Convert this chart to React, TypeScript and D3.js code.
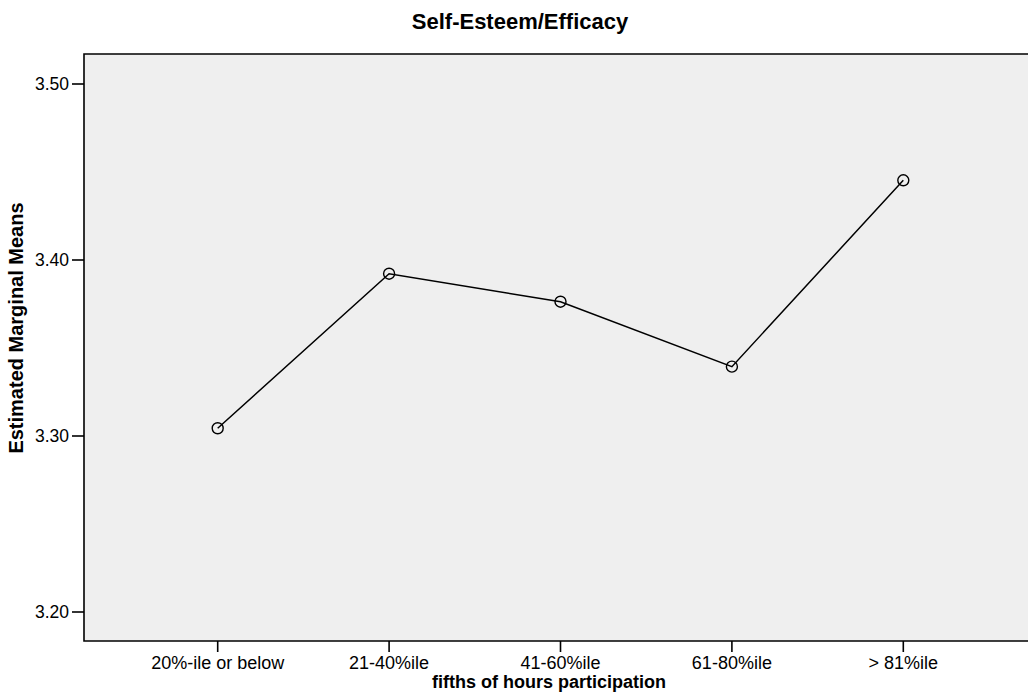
import React from "react";
import * as d3 from "d3";

const categories = ["20%-ile or below", "21-40%ile", "41-60%ile", "61-80%ile", "> 81%ile"];
const means = [3.3044, 3.3922, 3.3763, 3.3394, 3.4453];
const yTicks = [3.2, 3.3, 3.4, 3.5];

const W = 1028;
const H = 696;
const plotLeft = 84;
const plotTop = 54;
const plotBottom = 641;
const plotRight = 1037;
const FONT = "Arial, 'Liberation Sans', sans-serif";

export default function App() {
  const x = d3.scalePoint<string>().domain(categories).range([plotLeft, plotRight]).padding(0.78);
  const y = d3.scaleLinear().domain([3.2, 3.5]).range([612, 84]);
  const line = d3
    .line<number>()
    .x((_, i) => x(categories[i]) as number)
    .y((d) => y(d));

  return (
    <svg
      width={W}
      height={H}
      style={{ position: "absolute", left: 0, top: 0, background: "#fff" }}
      fontFamily={FONT}
    >
      <text x={520} y={29} textAnchor="middle" fontSize={22} fontWeight="bold" fill="#000">
        Self-Esteem/Efficacy
      </text>
      <rect x={plotLeft} y={plotTop} width={plotRight - plotLeft} height={plotBottom - plotTop} fill="#efefef" />
      <path
        d={`M${plotRight},${plotTop}H${plotLeft}V${plotBottom}H${plotRight}`}
        fill="none"
        stroke="#000"
        strokeWidth={1.6}
      />
      {yTicks.map((t) => (
        <g key={t}>
          <line x1={72} x2={plotLeft} y1={y(t)} y2={y(t)} stroke="#000" strokeWidth={1.6} />
          <text x={69} y={y(t)} dy="0.35em" textAnchor="end" fontSize={17.5} fill="#000">
            {t.toFixed(2)}
          </text>
        </g>
      ))}
      {categories.map((c) => (
        <g key={c}>
          <line x1={x(c)} x2={x(c)} y1={plotBottom} y2={652} stroke="#000" strokeWidth={1.6} />
          <text x={x(c)} y={669} textAnchor="middle" fontSize={18} fill="#000">
            {c}
          </text>
        </g>
      ))}
      <text x={549} y={688} textAnchor="middle" fontSize={18} fontWeight="bold" fill="#000">
        fifths of hours participation
      </text>
      <text
        transform={`translate(23,328) rotate(-90)`}
        textAnchor="middle"
        fontSize={20}
        fontWeight="bold"
        fill="#000"
      >
        Estimated Marginal Means
      </text>
      <path d={line(means) ?? ""} fill="none" stroke="#000" strokeWidth={1.5} />
      {means.map((v, i) => (
        <circle key={i} cx={x(categories[i])} cy={y(v)} r={5.5} fill="none" stroke="#000" strokeWidth={1.4} />
      ))}
    </svg>
  );
}
